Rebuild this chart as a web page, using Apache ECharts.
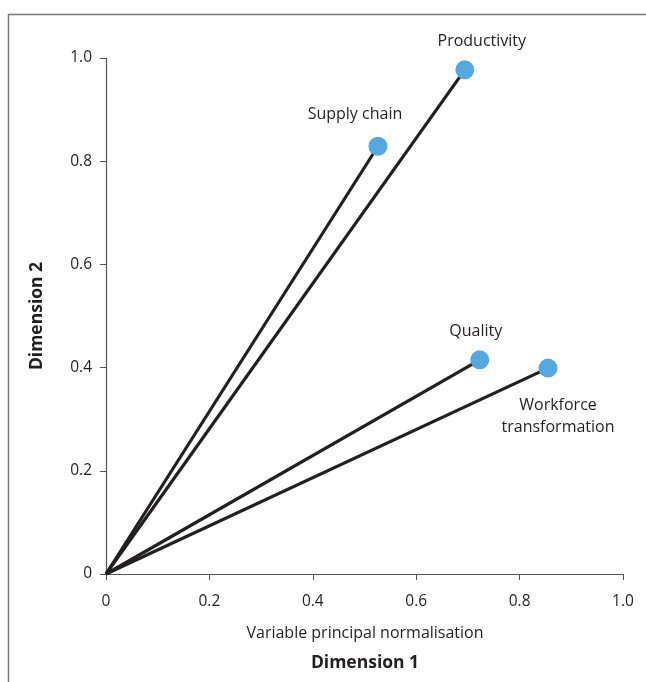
<!DOCTYPE html>
<html>
<head>
<meta charset="utf-8">
<script src="https://cdn.jsdelivr.net/npm/echarts@6/dist/echarts.min.js"></script>
<style>
  html, body { margin: 0; padding: 0; background: #fff; }
  #chart { width: 646px; height: 682px; }
</style>
</head>
<body>
<div id="chart"></div>
<script>
// variables (vectors from origin)
const names = ["Productivity", "Supply chain", "Quality", "Workforce\ntransformation"];
const dim1 = [0.694, 0.526, 0.723, 0.855];
const dim2 = [0.977, 0.829, 0.415, 0.399];
const labelPos = ["top", "top", "top", "bottom"];
const labelOffset = [[17, 0], [-23, -3], [-4, 0], [10, 9]];
const ticks = [0, 0.2, 0.4, 0.6, 0.8, 1.0];

const FONT = "Open Sans";

const series = names.map(function (n, i) {
  return {
    name: n,
    type: "line",
    data: [
      { value: [0, 0], symbol: "none" },
      {
        value: [dim1[i], dim2[i]],
        symbol: "circle",
        symbolSize: 19,
        label: {
          show: true,
          formatter: n,
          position: labelPos[i],
          offset: labelOffset[i],
          distance: 8,
          color: "#231f20",
          fontFamily: FONT,
          fontSize: 16,
          lineHeight: 22,
          align: "center"
        }
      }
    ],
    lineStyle: { color: "#231f20", width: 3.2 },
    itemStyle: { color: "#56a8e0", borderWidth: 0 },
    z: 3,
    animation: false
  };
});

const axisLabelFmt = function (v) {
  return v === 0 ? "0" : v.toFixed(1);
};

const myChart = echarts.init(document.getElementById("chart"));
myChart.setOption({
  backgroundColor: "#fff",
  animation: false,
  grid: { left: 106, right: 23, top: 58, bottom: 108 },
  graphic: [
    {
      type: "rect",
      shape: { x: 8.5, y: 14.5, width: 700, height: 700 },
      style: { fill: "none", stroke: "#7a7a7a", lineWidth: 1.5 },
      silent: true
    },
    {
      type: "text",
      style: {
        text: "Variable principal normalisation",
        x: 365, y: 633,
        align: "center", verticalAlign: "middle",
        fill: "#231f20", font: "16px " + FONT
      }
    },
    {
      type: "text",
      style: {
        text: "Dimension 1",
        x: 365, y: 663,
        align: "center", verticalAlign: "middle",
        fill: "#231f20", font: "bold 17.5px " + FONT
      }
    },
    {
      type: "text",
      x: 37, y: 316,
      rotation: Math.PI / 2,
      style: {
        text: "Dimension 2",
        x: 0, y: 0,
        align: "center", verticalAlign: "middle",
        fill: "#231f20", font: "bold 17.5px " + FONT
      }
    }
  ],
  xAxis: {
    type: "value",
    min: 0, max: 1, interval: 0.2,
    axisLine: { show: true, onZero: false, lineStyle: { color: "#555", width: 1.2 } },
    axisTick: { show: true, length: 6, lineStyle: { color: "#555" } },
    splitLine: { show: false },
    axisLabel: { formatter: axisLabelFmt, color: "#231f20", fontFamily: FONT, fontSize: 15.5, margin: 20 }
  },
  yAxis: {
    type: "value",
    min: 0, max: 1, interval: 0.2,
    axisLine: { show: true, onZero: false, lineStyle: { color: "#555", width: 1.2 } },
    axisTick: { show: true, length: 6, lineStyle: { color: "#555" } },
    splitLine: { show: false },
    axisLabel: { formatter: axisLabelFmt, color: "#231f20", fontFamily: FONT, fontSize: 15.5, margin: 14 }
  },
  series: series
});
</script>
</body>
</html>
